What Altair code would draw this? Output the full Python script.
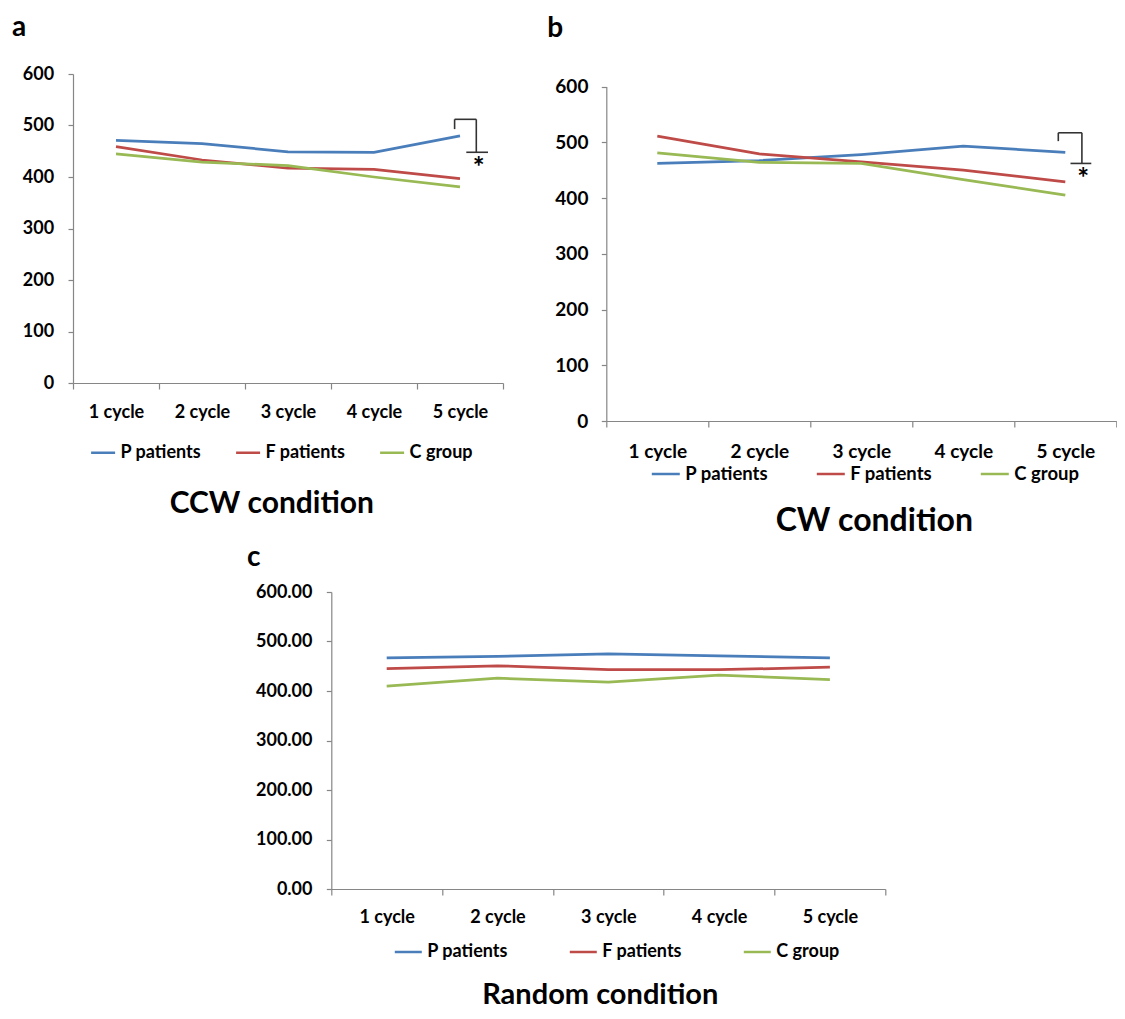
import altair as alt
import pandas as pd

FONT = "Lato"

cycles = ["1 cycle", "2 cycle", "3 cycle", "4 cycle", "5 cycle"]
groups = ["P patients", "F patients", "C group"]
colors = ["#4A7EBB", "#BE4B48", "#98B954"]
y_ticks = [0, 100, 200, 300, 400, 500, 600]

# a: CCW condition
ccw_p = [471, 465, 449, 448, 480]
ccw_f = [459, 433, 417, 415, 397]
ccw_c = [445, 429, 422, 400, 381]

# b: CW condition
cw_p = [462, 467, 478, 493, 482]
cw_f = [511, 479, 465, 450, 429]
cw_c = [481, 464, 462, 433, 405]

# c: Random condition
rnd_p = [467, 470, 475, 471, 467]
rnd_f = [445, 451, 443, 443, 448]
rnd_c = [410, 426, 418, 432, 423]


def long_df(p, f, c):
    rows = []
    for g, vals in zip(groups, [p, f, c]):
        for cyc, v in zip(cycles, vals):
            rows.append({"cycle": cyc, "group": g, "value": v})
    return pd.DataFrame(rows)


def panel(df, width, height, yrange, fs, leg_fs, tick_fmt, xlab_pad, ylab_pad,
          leg_x, leg_y, leg_sym, leg_colpad, letter, letter_xy,
          title, title_xy, title_fs, bracket=None):
    x = alt.X(
        "cycle:N", sort=cycles, bandPosition=0.5,
        scale=alt.Scale(type="band", paddingInner=0, paddingOuter=0),
        axis=alt.Axis(title=None, labelAngle=0, tickBand="extent", tickSize=6,
                      labelPadding=xlab_pad, labelFontSize=fs, labelOverlap=False),
    )
    if yrange is not None:
        ysc = alt.Scale(domain=[0, 600], range=yrange)
    else:
        ysc = alt.Scale(domain=[0, 600])
    y = alt.Y(
        "value:Q", scale=ysc,
        axis=alt.Axis(title=None, values=y_ticks, format=tick_fmt, tickSize=5,
                      labelPadding=ylab_pad, labelFontSize=fs),
    )
    color = alt.Color(
        "group:N", sort=groups,
        scale=alt.Scale(domain=groups, range=colors),
        legend=alt.Legend(title=None, orient="none", legendX=leg_x, legendY=leg_y,
                          direction="horizontal", symbolType="stroke",
                          symbolSize=leg_sym, symbolStrokeWidth=2.5,
                          labelFontSize=leg_fs, columnPadding=leg_colpad,
                          labelOffset=4, padding=0),
    )
    lines = alt.Chart(df).mark_line(strokeWidth=2.75).encode(x=x, y=y, color=color)

    layers = [lines]
    lab = alt.Chart(pd.DataFrame({"t": [letter]})).mark_text(
        align="left", baseline="alphabetic", fontSize=28, fontWeight="bold",
        font=FONT, color="black"
    ).encode(text="t:N", x=alt.value(letter_xy[0]), y=alt.value(letter_xy[1]))
    ttl = alt.Chart(pd.DataFrame({"t": [title]})).mark_text(
        align="center", baseline="alphabetic", fontSize=title_fs, fontWeight="bold",
        font=FONT, color="black"
    ).encode(text="t:N", x=alt.value(title_xy[0]), y=alt.value(title_xy[1]))
    layers += [lab, ttl]

    if bracket is not None:
        xl, xr, xb1, xb2, xs, ytop, yl, yr, ys = bracket
        rc = "#333333"
        sw = 1.6
        base = alt.Chart(pd.DataFrame({"k": [0]}))
        layers += [
            base.mark_rule(color=rc, strokeWidth=sw).encode(
                x=alt.value(xl), x2=alt.value(xr), y=alt.datum(ytop)),
            base.mark_rule(color=rc, strokeWidth=sw).encode(
                x=alt.value(xl), y=alt.datum(ytop), y2=alt.datum(yl)),
            base.mark_rule(color=rc, strokeWidth=sw).encode(
                x=alt.value(xr), y=alt.datum(ytop), y2=alt.datum(yr)),
            base.mark_rule(color=rc, strokeWidth=sw).encode(
                x=alt.value(xb1), x2=alt.value(xb2), y=alt.datum(yr)),
            base.mark_text(text="*", fontSize=28, fontWeight="bold", font=FONT,
                           color="black", baseline="middle", align="center").encode(
                x=alt.value(xs), y=alt.datum(ys)),
        ]
    return alt.layer(*layers).properties(width=width, height=height)


A = panel(long_df(ccw_p, ccw_f, ccw_c), 430, 309, None, 18, 18, "d", 14, 14.4,
          16.6, 365, 576, 29, "a", (-61, -38),
          "CCW condition", (198.8, 438.7), 30,
          bracket=(381.6, 403.3, 393.3, 415, 405.6, 512, 493, 448, 416))

B = panel(long_df(cw_p, cw_f, cw_c), 510, 347, [347, 12.5], 19, 18.5, "d", 15.5, 13.4,
          44, 384.5, 784, 43, "b", (-59, -37),
          "CW condition", (268, 457), 32,
          bracket=(452, 475.6, 464.2, 485, 477, 517, 502, 462, 432))

C = panel(long_df(rnd_p, rnd_f, rnd_c), 554, 297, None, 18, 18, ".2f", 13.5, 14.3,
          62, 345, 729, 56, "c", (-84.3, -26),
          "Random condition", (269, 412), 29)

spacer = alt.Chart(pd.DataFrame({"s": [0]})).mark_rect(opacity=0).encode(
    x=alt.value(0), x2=alt.value(1), y=alt.value(0), y2=alt.value(1)
).properties(width=200, height=10)

row1 = alt.hconcat(A, B, spacing=103.3, bounds="flush").resolve_scale(
    color="independent").resolve_legend(color="independent")
row2 = alt.hconcat(spacer, C, spacing=58.3, bounds="flush").resolve_scale(
    color="independent").resolve_legend(color="independent")

chart = alt.vconcat(row1, row2, spacing=518, bounds="flush").resolve_scale(
    color="independent").resolve_legend(color="independent").properties(
    padding={"left": 4, "top": 6, "right": 0, "bottom": 0}
).configure_view(stroke=None).configure_axis(
    domainColor="#868686", tickColor="#868686", grid=False, labelFont=FONT,
    labelFontWeight="bold", labelColor="black", domainWidth=1.2, tickWidth=1.2,
).configure_legend(
    labelFont=FONT, labelFontWeight="bold", labelColor="black"
)

chart.save("out.html", embed_options={"renderer": "svg", "actions": False})
